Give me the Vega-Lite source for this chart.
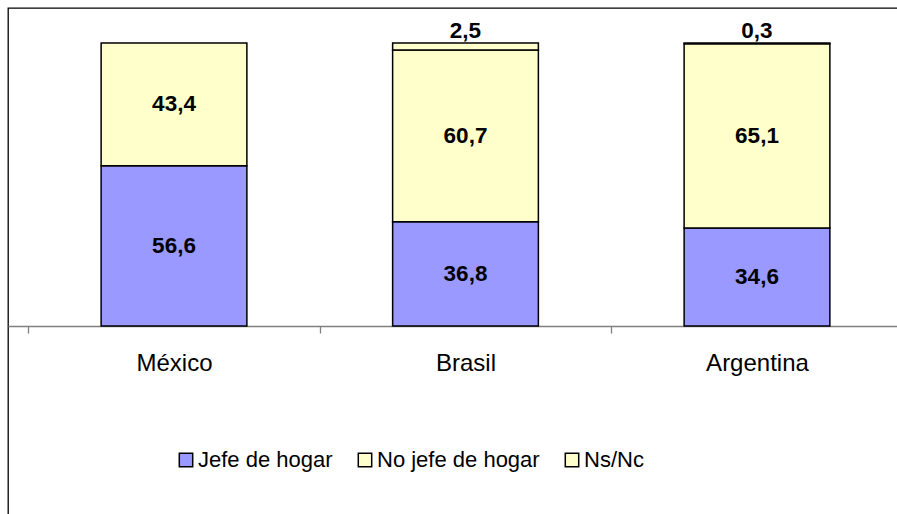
{
  "$schema": "https://vega.github.io/schema/vega-lite/v6.json",
  "width": 915,
  "height": 510,
  "autosize": "none",
  "padding": {"left": 8, "top": 8, "right": 0, "bottom": 0},
  "background": "white",
  "config": {
    "view": {"stroke": "#000000", "strokeWidth": 1.3},
    "font": "Liberation Sans",
    "locale": {"number": {"decimal": ",", "thousands": ".", "grouping": [3], "currency": ["", ""]}}
  },
  "data": {
    "values": [
      {"pais": "México", "serie": "Jefe de hogar", "valor": 56.6},
      {"pais": "México", "serie": "No jefe de hogar", "valor": 43.4},
      {"pais": "Brasil", "serie": "Jefe de hogar", "valor": 36.8},
      {"pais": "Brasil", "serie": "No jefe de hogar", "valor": 60.7},
      {"pais": "Brasil", "serie": "Ns/Nc", "valor": 2.5},
      {"pais": "Argentina", "serie": "Jefe de hogar", "valor": 34.6},
      {"pais": "Argentina", "serie": "No jefe de hogar", "valor": 65.1},
      {"pais": "Argentina", "serie": "Ns/Nc", "valor": 0.3}
    ]
  },
  "transform": [
    {"stack": "valor", "groupby": ["pais"], "sort": [{"field": "serie", "order": "ascending"}], "as": ["v0", "v1"]}
  ],
  "encoding": {
    "x": {
      "field": "pais",
      "type": "nominal",
      "sort": ["México", "Brasil", "Argentina"],
      "scale": {"paddingInner": 0, "paddingOuter": 0.0695},
      "axis": {
        "title": null,
        "offset": -192,
        "tickBand": "extent",
        "tickSize": 7,
        "tickColor": "#808080",
        "tickWidth": 1.3,
        "domainColor": "#808080",
        "domainWidth": 1.3,
        "labelFontSize": 24,
        "labelColor": "#000000",
        "labelPadding": 18,
        "labelAngle": 0,
        "grid": false
      }
    }
  },
  "layer": [
    {
      "mark": {"type": "bar", "stroke": "#000000", "strokeWidth": 1.5, "width": {"band": 0.5}},
      "encoding": {
        "y": {"field": "v0", "type": "quantitative", "scale": {"domain": [-67.84, 112.37], "nice": false, "zero": false}, "axis": null},
        "y2": {"field": "v1"},
        "color": {
          "field": "serie",
          "type": "nominal",
          "scale": {"domain": ["Jefe de hogar", "No jefe de hogar", "Ns/Nc"], "range": ["#9999FF", "#FFFFCC", "#FFFFCC"]},
          "legend": {
            "orient": "none",
            "direction": "horizontal",
            "legendX": 167,
            "legendY": 441,
            "title": null,
            "padding": 0,
            "symbolType": "square",
            "symbolSize": 180,
            "symbolStrokeColor": "#000000",
            "symbolStrokeWidth": 1.5,
            "labelFontSize": 22,
            "labelColor": "#000000",
            "labelLimit": 400,
            "labelOffset": 1,
            "columnPadding": 21
          }
        }
      }
    },
    {
      "transform": [
        {"filter": "datum.valor >= 5"},
        {"fold": ["v0", "v1"], "as": ["k", "pos"]},
        {"aggregate": [{"op": "mean", "field": "pos", "as": "mid"}], "groupby": ["pais", "serie", "valor"]}
      ],
      "mark": {"type": "text", "fontWeight": "bold", "fontSize": 22.5, "baseline": "middle", "color": "#000000"},
      "encoding": {
        "y": {"field": "mid", "type": "quantitative", "axis": null},
        "text": {"field": "valor", "type": "quantitative", "format": ".1f"}
      }
    },
    {
      "transform": [{"filter": "datum.valor < 5"}],
      "mark": {"type": "text", "fontWeight": "bold", "fontSize": 22.5, "baseline": "middle", "dy": -12, "color": "#000000"},
      "encoding": {
        "y": {"field": "v1", "type": "quantitative", "axis": null},
        "text": {"field": "valor", "type": "quantitative", "format": ".1f"}
      }
    }
  ]
}
